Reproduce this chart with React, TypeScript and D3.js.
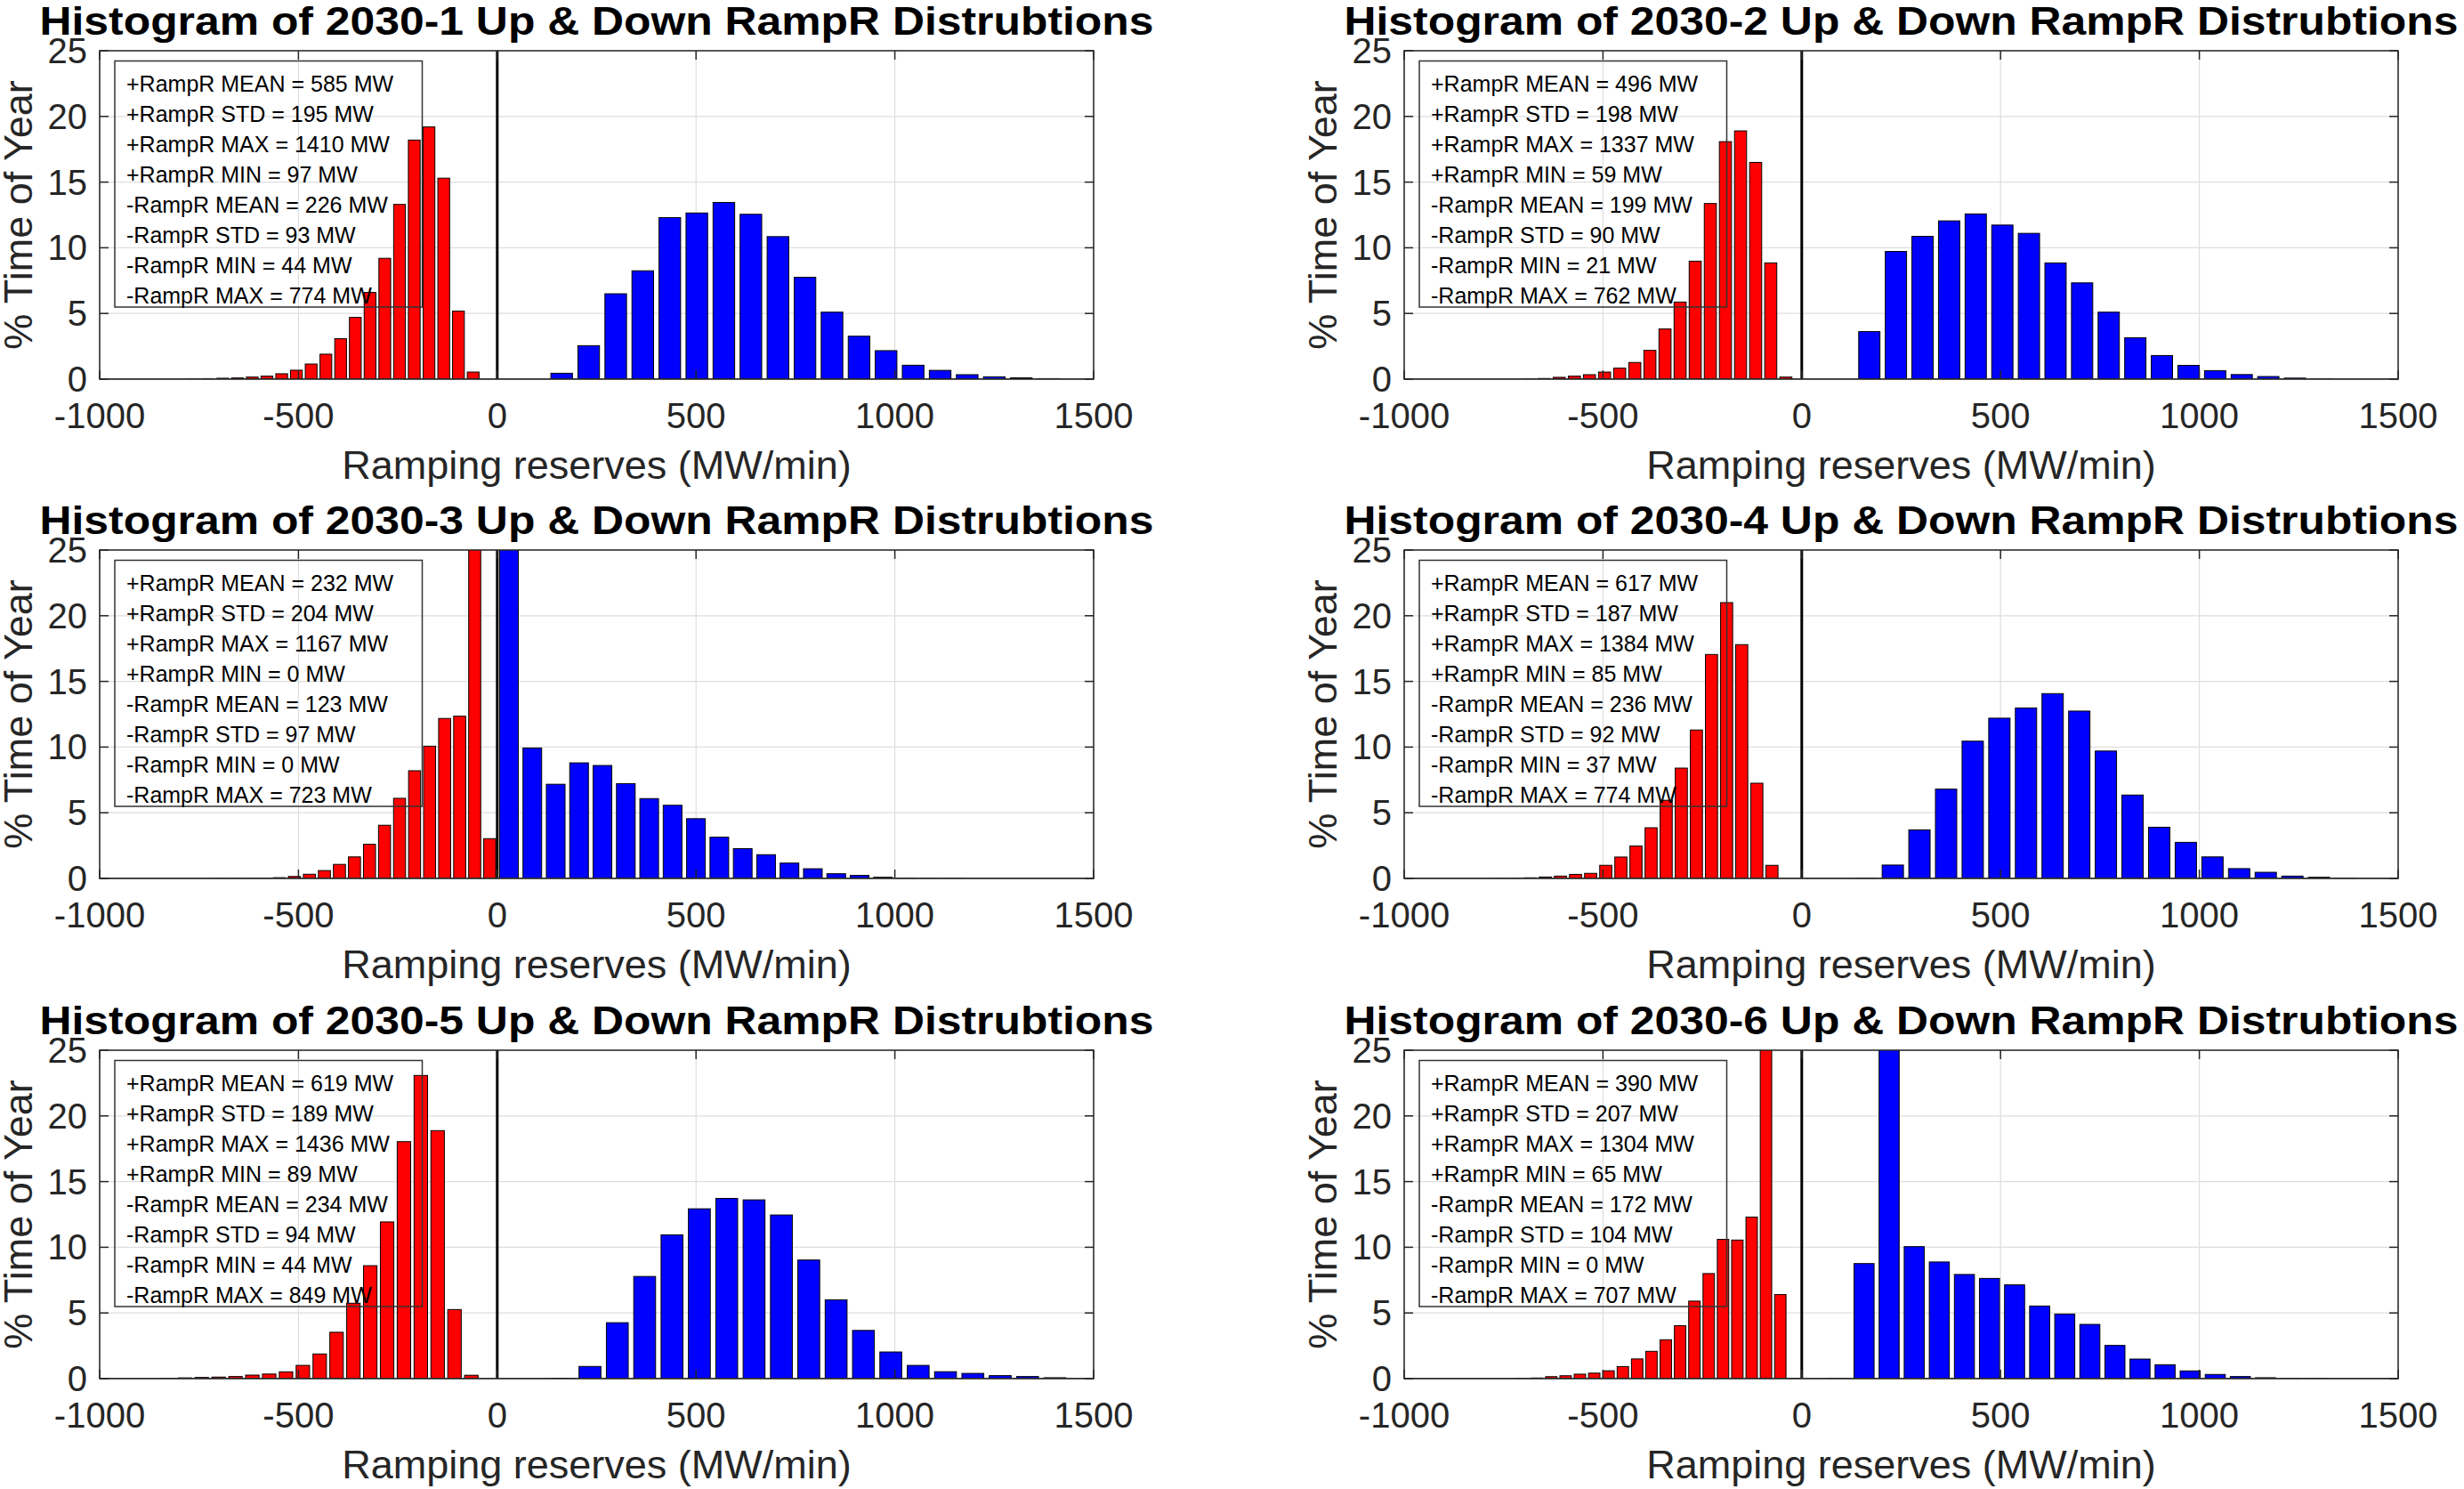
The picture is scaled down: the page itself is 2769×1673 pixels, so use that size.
import React, { useEffect, useRef } from "react";
import * as d3 from "d3";

// Scenario names, one panel each (2 columns x 3 rows)
const scenarios = ["2030-1", "2030-2", "2030-3", "2030-4", "2030-5", "2030-6"];

// Up-ramp (+RampR) summary stats, MW
const upMean = [585, 496, 232, 617, 619, 390];
const upStd = [195, 198, 204, 187, 189, 207];
const upMax = [1410, 1337, 1167, 1384, 1436, 1304];
const upMin = [97, 59, 0, 85, 89, 65];

// Down-ramp (-RampR) summary stats, MW
const downMean = [226, 199, 123, 236, 234, 172];
const downStd = [93, 90, 97, 92, 94, 104];
const downMin = [44, 21, 0, 37, 44, 0];
const downMax = [774, 762, 723, 774, 849, 707];

// Histogram bin ranges [lo, hi] in MW/min; bins are equal width across the range
const upEdges: [number, number][] = [
    [128, 1420],
    [136.5, 1340.7],
    [0, 1176],
    [128.5, 1401.5],
    [130, 1437],
    [62, 1324],
];
const downEdges: [number, number][] = [
    [-783, -42],
    [-705, -21],
    [-756, 0],
    [-778, -56],
    [-849, -44],
    [-720, 0],
];

// % time of year in each bin (left to right)
const upCounts = [
    [0.45, 2.55, 6.5, 8.25, 12.3, 12.65, 13.45, 12.55, 10.85, 7.75, 5.1, 3.27, 2.17, 1.06, 0.67, 0.34, 0.18, 0.1, 0.04],
    [3.62, 9.72, 10.87, 12.05, 12.58, 11.73, 11.1, 8.85, 7.33, 5.1, 3.15, 1.8, 1.05, 0.65, 0.35, 0.2, 0.08, 0.02],
    [34.5, 9.93, 7.17, 8.8, 8.6, 7.22, 6.08, 5.57, 4.55, 3.14, 2.27, 1.81, 1.17, 0.74, 0.36, 0.23, 0.09, 0.03, 0.01, 0.01],
    [0.02, 1.02, 3.7, 6.8, 10.45, 12.2, 12.98, 14.07, 12.74, 9.7, 6.35, 3.9, 2.75, 1.64, 0.75, 0.47, 0.18, 0.09, 0.02],
    [0.03, 0.93, 4.26, 7.78, 10.95, 12.93, 13.72, 13.61, 12.46, 9.03, 6.0, 3.67, 2.03, 1.01, 0.53, 0.4, 0.23, 0.16, 0.07],
    [0.02, 8.76, 31.8, 10.05, 8.88, 7.93, 7.63, 7.14, 5.53, 4.92, 4.13, 2.53, 1.49, 1.06, 0.59, 0.32, 0.16, 0.07, 0.02, 0.01],
];
const downCounts = [
    [0.02, 0.04, 0.07, 0.09, 0.16, 0.23, 0.41, 0.68, 1.15, 1.9, 3.08, 4.7, 6.6, 9.2, 13.3, 18.2, 19.2, 15.3, 5.18, 0.54],
    [0.02, 0.05, 0.14, 0.23, 0.34, 0.54, 0.84, 1.27, 2.19, 3.82, 5.87, 8.98, 13.37, 18.08, 18.9, 16.5, 8.85, 0.16],
    [0, 0.005, 0.01, 0.01, 0.03, 0.06, 0.15, 0.32, 0.6, 1.07, 1.64, 2.6, 4.05, 6.1, 8.2, 10.07, 12.18, 12.35, 28.4, 3.03],
    [0.01, 0.02, 0.05, 0.11, 0.18, 0.31, 0.39, 1.0, 1.63, 2.47, 3.86, 5.95, 8.4, 11.3, 17.05, 21.0, 17.8, 7.25, 1.0],
    [0.02, 0.06, 0.09, 0.12, 0.16, 0.27, 0.35, 0.52, 1.01, 1.88, 3.53, 5.74, 8.6, 11.93, 18.04, 23.08, 18.88, 5.26, 0.26],
    [0.02, 0.05, 0.15, 0.22, 0.34, 0.42, 0.6, 0.92, 1.5, 2.08, 2.96, 4.03, 5.9, 8.0, 10.6, 10.55, 12.3, 27.6, 6.4, 0.03],
];

const xTicks = [-1000, -500, 0, 500, 1000, 1500];
const yTicks = [0, 5, 10, 15, 20, 25];

const FONT = '"Liberation Sans", Arial, Helvetica, sans-serif';
const AXIS_COLOR = "#262626";

// Figure layout
const figWidth = 2769;
const figHeight = 1673;
const colX = [112, 1578];
const rowY = [57, 618, 1180];
const axW = 1117;
const axH = 369;

const toBins = (edges: [number, number], counts: number[]) => {
    const [lo, hi] = edges;
    const w = (hi - lo) / counts.length;
    return counts.map((c, i) => ({ center: lo + (i + 0.5) * w, width: w, value: c }));
};

const RampHistograms: React.FC = () => {
    const svgRef = useRef<SVGSVGElement>(null);

    useEffect(() => {
        if (!svgRef.current) return;

        const svg = d3.select(svgRef.current);
        svg.selectAll("*").remove();

        svg.append("rect")
            .attr("width", figWidth)
            .attr("height", figHeight)
            .attr("fill", "#ffffff");

        const xScale = d3.scaleLinear().domain([-1000, 1500]).range([0, axW]);
        const yScale = d3.scaleLinear().domain([0, 25]).range([axH, 0]);

        scenarios.forEach((name, i) => {
            const left = colX[i % 2];
            const top = rowY[Math.floor(i / 2)];

            const g = svg.append("g").attr("transform", `translate(${left},${top})`);

            // clip so tall bins get cut at 25%
            const clipId = `clip-${i}`;
            g.append("clipPath")
                .attr("id", clipId)
                .append("rect")
                .attr("width", axW)
                .attr("height", axH);

            // grid
            g.selectAll(".xgrid")
                .data(xTicks)
                .enter()
                .append("line")
                .attr("x1", (d) => xScale(d))
                .attr("x2", (d) => xScale(d))
                .attr("y1", 0)
                .attr("y2", axH)
                .attr("stroke", "#dedede")
                .attr("stroke-width", 1.2);
            g.selectAll(".ygrid")
                .data(yTicks)
                .enter()
                .append("line")
                .attr("x1", 0)
                .attr("x2", axW)
                .attr("y1", (d) => yScale(d))
                .attr("y2", (d) => yScale(d))
                .attr("stroke", "#dedede")
                .attr("stroke-width", 1.2);

            const plot = g.append("g").attr("clip-path", `url(#${clipId})`);

            const drawBars = (bins: { center: number; width: number; value: number }[], fill: string) => {
                plot.append("g")
                    .selectAll("rect")
                    .data(bins)
                    .enter()
                    .append("rect")
                    .attr("x", (d) => xScale(d.center - 0.4 * d.width))
                    .attr("width", (d) => xScale(d.center + 0.4 * d.width) - xScale(d.center - 0.4 * d.width))
                    .attr("y", (d) => yScale(d.value))
                    .attr("height", (d) => axH - yScale(d.value))
                    .attr("fill", fill)
                    .attr("stroke", "#000")
                    .attr("stroke-width", 1);
            };

            drawBars(toBins(downEdges[i], downCounts[i]), "#ff0000");
            drawBars(toBins(upEdges[i], upCounts[i]), "#0000ff");

            // bar baseline
            plot.append("line")
                .attr("x1", 0)
                .attr("x2", axW)
                .attr("y1", yScale(0))
                .attr("y2", yScale(0))
                .attr("stroke", AXIS_COLOR)
                .attr("stroke-width", 1.5);

            // divider between down and up ramps
            plot.append("line")
                .attr("x1", xScale(0))
                .attr("x2", xScale(0))
                .attr("y1", 0)
                .attr("y2", axH)
                .attr("stroke", "#000")
                .attr("stroke-width", 3);

            // axes box
            g.append("rect")
                .attr("width", axW)
                .attr("height", axH)
                .attr("fill", "none")
                .attr("stroke", AXIS_COLOR)
                .attr("stroke-width", 1.5);

            // inward ticks on all four sides
            const tickLen = 10;
            xTicks.forEach((t) => {
                const x = xScale(t);
                g.append("line").attr("x1", x).attr("x2", x).attr("y1", axH).attr("y2", axH - tickLen)
                    .attr("stroke", AXIS_COLOR).attr("stroke-width", 1.5);
                g.append("line").attr("x1", x).attr("x2", x).attr("y1", 0).attr("y2", tickLen)
                    .attr("stroke", AXIS_COLOR).attr("stroke-width", 1.5);
            });
            yTicks.forEach((t) => {
                const y = yScale(t);
                g.append("line").attr("x1", 0).attr("x2", tickLen).attr("y1", y).attr("y2", y)
                    .attr("stroke", AXIS_COLOR).attr("stroke-width", 1.5);
                g.append("line").attr("x1", axW).attr("x2", axW - tickLen).attr("y1", y).attr("y2", y)
                    .attr("stroke", AXIS_COLOR).attr("stroke-width", 1.5);
            });

            // tick labels
            g.selectAll(".xlab")
                .data(xTicks)
                .enter()
                .append("text")
                .attr("x", (d) => xScale(d))
                .attr("y", axH + 55)
                .attr("text-anchor", "middle")
                .attr("font-family", FONT)
                .attr("font-size", 40)
                .attr("fill", AXIS_COLOR)
                .text((d) => `${d}`);
            g.selectAll(".ylab")
                .data(yTicks)
                .enter()
                .append("text")
                .attr("x", -14)
                .attr("y", (d) => yScale(d) + 14)
                .attr("text-anchor", "end")
                .attr("font-family", FONT)
                .attr("font-size", 40)
                .attr("fill", AXIS_COLOR)
                .text((d) => `${d}`);

            // axis labels
            g.append("text")
                .attr("x", axW / 2)
                .attr("y", axH + 112)
                .attr("text-anchor", "middle")
                .attr("font-family", FONT)
                .attr("font-size", 45)
                .attr("fill", AXIS_COLOR)
                .text("Ramping reserves (MW/min)");
            g.append("text")
                .attr("transform", `translate(-76,${axH / 2}) rotate(-90)`)
                .attr("text-anchor", "middle")
                .attr("font-family", FONT)
                .attr("font-size", 45)
                .attr("fill", AXIS_COLOR)
                .text("% Time of Year");

            // title
            g.append("text")
                .attr("x", axW / 2)
                .attr("y", -18)
                .attr("text-anchor", "middle")
                .attr("font-family", FONT)
                .attr("font-weight", "bold")
                .attr("font-size", 45)
                .attr("textLength", 1252)
                .attr("lengthAdjust", "spacingAndGlyphs")
                .attr("fill", "#000")
                .text(`Histogram of ${name} Up & Down RampR Distrubtions`);

            // stats annotation box (no fill, bars show through)
            const lines = [
                `+RampR MEAN = ${upMean[i]} MW`,
                `+RampR STD = ${upStd[i]} MW`,
                `+RampR MAX = ${upMax[i]} MW`,
                `+RampR MIN = ${upMin[i]} MW`,
                `-RampR MEAN = ${downMean[i]} MW`,
                `-RampR STD = ${downStd[i]} MW`,
                `-RampR MIN = ${downMin[i]} MW`,
                `-RampR MAX = ${downMax[i]} MW`,
            ];
            g.append("rect")
                .attr("x", 17)
                .attr("y", 11.5)
                .attr("width", 345.5)
                .attr("height", 276.5)
                .attr("fill", "none")
                .attr("stroke", "#333")
                .attr("stroke-width", 1.5);
            g.selectAll(".stat")
                .data(lines)
                .enter()
                .append("text")
                .attr("x", 30)
                .attr("y", (_, k) => 46.3 + 33.9 * k)
                .attr("font-family", FONT)
                .attr("font-size", 25)
                .attr("fill", "#000")
                .text((d) => d);
        });
    }, []);

    return (
        <svg
            ref={svgRef}
            width={figWidth}
            height={figHeight}
            style={{ position: "absolute", left: 0, top: 0, display: "block" }}
        />
    );
};

export default function App() {
    return <RampHistograms />;
}
